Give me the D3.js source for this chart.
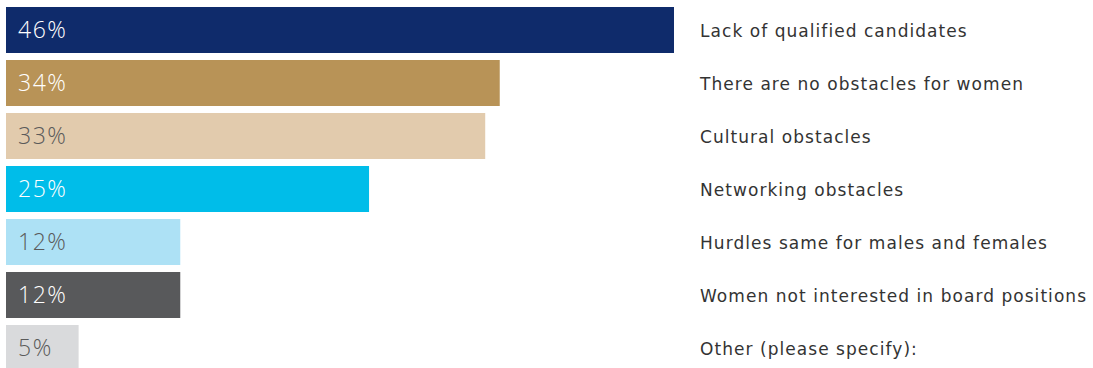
<!DOCTYPE html>
<html>
<head>
<meta charset="utf-8">
<script src="https://cdn.jsdelivr.net/npm/d3@7"></script>
<style>
  html, body { margin: 0; padding: 0; background: #fff; }
  svg { display: block; }
</style>
</head>
<body>
<svg id="chart" width="1093" height="368"></svg>
<script>
const categories = [
  "Lack of qualified candidates",
  "There are no obstacles for women",
  "Cultural obstacles",
  "Networking obstacles",
  "Hurdles same for males and females",
  "Women not interested in board positions",
  "Other (please specify):"
];
const values = [46, 34, 33, 25, 12, 12, 5];
const barColors = ["#0f2b6b", "#b89357", "#e2cbad", "#00bde9", "#ade1f5", "#58595b", "#d9dadc"];
const valueTextColors = ["#ffffff", "#ffffff", "#5a5a5a", "#ffffff", "#5a5a5a", "#ffffff", "#5a5a5a"];

const svg = d3.select("#chart");

const x = d3.scaleLinear().domain([0, 46]).range([6, 674]);
// 53px row pitch, 46px bars
const y = d3.scaleBand().domain(categories).range([7, 371]).paddingInner(7 / 53).paddingOuter(0);

const rows = svg.selectAll("g.row")
  .data(categories.map((c, i) => ({ c, v: values[i], i })))
  .join("g").attr("class", "row");

rows.append("rect")
  .attr("x", x(0))
  .attr("y", d => y(d.c))
  .attr("width", d => x(d.v) - x(0))
  .attr("height", y.bandwidth())
  .attr("fill", d => barColors[d.i]);

rows.append("text")
  .attr("x", 18)
  .attr("y", d => y(d.c) + y.bandwidth() / 2)
  .attr("dy", "0.36em")
  .attr("font-family", "'Open Sans', sans-serif")
  .attr("font-weight", 300)
  .attr("font-size", 23)
  .attr("letter-spacing", 1.5)
  .attr("fill", d => valueTextColors[d.i])
  .text(d => d.v + "%");

rows.append("text")
  .attr("x", 700)
  .attr("y", d => y(d.c) + y.bandwidth() / 2)
  .attr("dy", "0.43em")
  .attr("font-family", "'DejaVu Sans', sans-serif")
  .attr("font-size", 17)
  .attr("letter-spacing", 1.05)
  .attr("fill", "#333333")
  .text(d => d.c);
</script>
</body>
</html>
